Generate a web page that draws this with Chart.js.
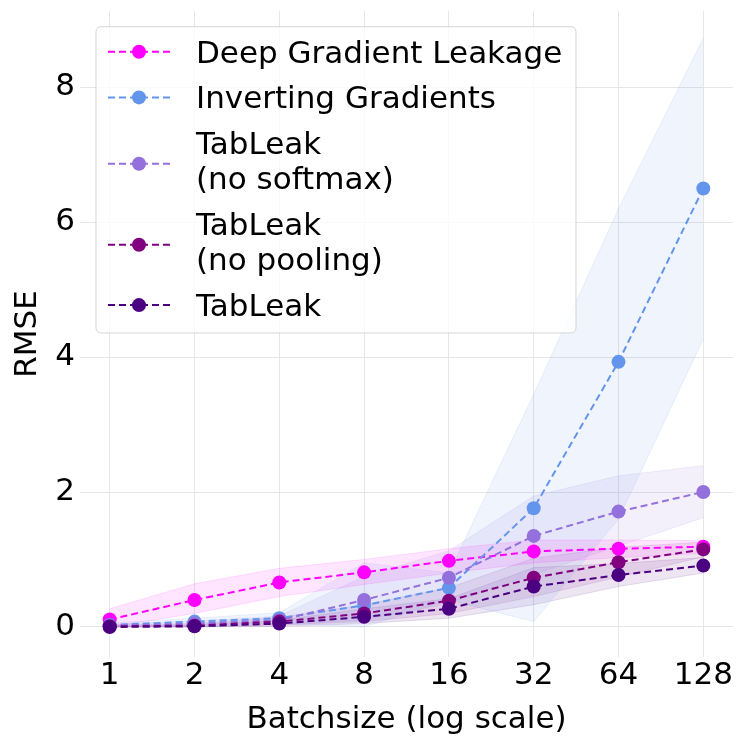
<!DOCTYPE html>
<html>
<head>
<meta charset="utf-8">
<script src="https://cdn.jsdelivr.net/npm/chart.js@4.4.1/dist/chart.umd.min.js"></script>
<style>
  html, body { margin: 0; padding: 0; background: #fff; }
  #wrap { width: 747px; height: 747px; }
</style>
</head>
<body>
<div id="wrap"><canvas id="rmse-chart" width="747" height="747"></canvas></div>
<script>
// Batch sizes (x axis, log scale) and y ticks
const batchSizes = [1, 2, 4, 8, 16, 32, 64, 128];
const yTicks = [0, 2, 4, 6, 8];

// Deep Gradient Leakage
const dglMean  = [0.11, 0.40, 0.66, 0.81, 0.98, 1.12, 1.16, 1.19];
const dglUpper = [0.27, 0.64, 0.87, 1.00, 1.16, 1.29, 1.29, 1.28];
const dglLower = [0.00, 0.20, 0.45, 0.63, 0.80, 0.95, 1.03, 1.09];

// Inverting Gradients
const igMean  = [0.03, 0.08, 0.13, 0.32, 0.58, 1.76, 3.93, 6.50];
const igUpper = [0.06, 0.13, 0.21, 0.95, 0.80, 3.45, 6.20, 8.73];
const igLower = [0.00, 0.03, 0.05, 0.00, 0.40, 0.08, 1.60, 4.27];

// TabLeak (no softmax)
const noSoftmaxMean  = [0.02, 0.05, 0.10, 0.40, 0.73, 1.35, 1.71, 2.00];
const noSoftmaxUpper = [0.04, 0.09, 0.16, 0.75, 1.13, 1.94, 2.24, 2.39];
const noSoftmaxLower = [0.00, 0.01, 0.04, 0.10, 0.35, 0.78, 1.20, 1.62];

// TabLeak (no pooling)
const noPoolingMean  = [0.01, 0.02, 0.08, 0.20, 0.39, 0.73, 0.96, 1.15];
const noPoolingUpper = [0.03, 0.05, 0.14, 0.33, 0.58, 1.02, 1.18, 1.26];
const noPoolingLower = [0.00, 0.00, 0.03, 0.08, 0.20, 0.45, 0.74, 1.04];

// TabLeak
const tabLeakMean  = [0.00, 0.01, 0.05, 0.15, 0.27, 0.60, 0.77, 0.91];
const tabLeakUpper = [0.02, 0.03, 0.10, 0.27, 0.42, 0.88, 0.94, 1.03];
const tabLeakLower = [0.00, 0.00, 0.01, 0.05, 0.13, 0.33, 0.60, 0.80];

const series = [
  { label: ["Deep Gradient Leakage"], color: "#ff00ff", rgb: "255,0,255", mean: dglMean, upper: dglUpper, lower: dglLower },
  { label: ["Inverting Gradients"], color: "#6495ed", rgb: "100,149,237", mean: igMean, upper: igUpper, lower: igLower },
  { label: ["TabLeak", "(no softmax)"], color: "#9370db", rgb: "147,112,219", mean: noSoftmaxMean, upper: noSoftmaxUpper, lower: noSoftmaxLower },
  { label: ["TabLeak", "(no pooling)"], color: "#800080", rgb: "128,0,128", mean: noPoolingMean, upper: noPoolingUpper, lower: noPoolingLower },
  { label: ["TabLeak"], color: "#4b0082", rgb: "75,0,130", mean: tabLeakMean, upper: tabLeakUpper, lower: tabLeakLower }
];

const FONT = "DejaVu Sans";
const toPoints = (vals) => batchSizes.map((b, i) => ({ x: b, y: vals[i] }));

const datasets = [];
series.forEach((s, k) => {
  // shaded band: upper filled down to the following lower dataset
  datasets.push({
    data: toPoints(s.upper),
    borderColor: "rgba(" + s.rgb + ",0.12)",
    borderWidth: 1,
    backgroundColor: "rgba(" + s.rgb + ",0.1)",
    pointRadius: 0,
    fill: "+1",
    order: 20 + k
  });
  datasets.push({
    data: toPoints(s.lower),
    borderColor: "rgba(" + s.rgb + ",0.12)",
    borderWidth: 1,
    pointRadius: 0,
    fill: false,
    order: 20 + k
  });
});
series.forEach((s, k) => {
  datasets.push({
    label: s.label.join(" "),
    data: toPoints(s.mean),
    borderColor: s.color,
    backgroundColor: s.color,
    borderWidth: 2,
    borderDash: [7, 4],
    pointRadius: 7,
    pointBorderWidth: 0,
    pointBackgroundColor: s.color,
    fill: false,
    tension: 0,
    order: 10 - k
  });
});

// legend box drawn inside the plot, top left
const boxLegend = {
  id: "boxLegend",
  afterDraw(chart) {
    const ctx = chart.ctx;
    const x0 = 96, y0 = 26.7, w = 480, h = 306.3, r = 5;
    ctx.save();
    ctx.beginPath();
    ctx.roundRect(x0, y0, w, h, r);
    ctx.fillStyle = "rgba(255,255,255,0.8)";
    ctx.fill();
    ctx.strokeStyle = "rgba(204,204,204,0.8)";
    ctx.lineWidth = 1;
    ctx.stroke();

    ctx.font = "31px '" + FONT + "'";
    ctx.fillStyle = "#000";
    ctx.textAlign = "left";
    ctx.textBaseline = "alphabetic";
    let base = 62.7;
    series.forEach((s) => {
      const first = base;
      s.label.forEach((line, j) => {
        if (j > 0) base += 35.3;
        ctx.fillText(line, 196, base);
      });
      const my = (first + base) / 2 - 11 + (s.label.length > 1 ? 3 : 0);
      ctx.beginPath();
      ctx.setLineDash([7, 4]);
      ctx.strokeStyle = s.color;
      ctx.lineWidth = 2;
      ctx.moveTo(108, my);
      ctx.lineTo(170, my);
      ctx.stroke();
      ctx.setLineDash([]);
      ctx.beginPath();
      ctx.arc(139, my, 7, 0, Math.PI * 2);
      ctx.fillStyle = s.color;
      ctx.fill();
      ctx.fillStyle = "#000";
      base += 45.7;
    });
    ctx.restore();
  }
};

const ctx = document.getElementById("rmse-chart").getContext("2d");
new Chart(ctx, {
  type: "line",
  data: { datasets: datasets },
  options: {
    responsive: false,
    animation: false,
    devicePixelRatio: 1,
    layout: { padding: { top: 11, right: 14, left: 0, bottom: 0 } },
    plugins: {
      legend: { display: false },
      tooltip: { enabled: false }
    },
    scales: {
      x: {
        type: "logarithmic",
        min: Math.pow(2, -0.35),
        max: Math.pow(2, 7.35),
        afterBuildTicks: (scale) => { scale.ticks = batchSizes.map(v => ({ value: v })); },
        afterFit: (scale) => {
          scale.height = 90;
          scale.paddingLeft = 0;
          scale.paddingRight = 0;
        },
        border: { display: false },
        grid: { color: "#e6e6e6", lineWidth: 1, drawTicks: false },
        ticks: {
          callback: (v) => String(v),
          autoSkip: false,
          maxRotation: 0,
          padding: 0,
          color: "#000",
          font: { family: FONT, size: 31 }
        },
        title: {
          display: true,
          text: "Batchsize (log scale)",
          color: "#000",
          font: { family: FONT, size: 31 },
          padding: { top: 0, bottom: 8 }
        }
      },
      y: {
        type: "linear",
        min: -0.445,
        max: 9.13,
        afterBuildTicks: (scale) => { scale.ticks = yTicks.map(v => ({ value: v })); },
        afterFit: (scale) => {
          scale.width = 80;
          scale.paddingTop = 0;
          scale.paddingBottom = 0;
        },
        border: { display: false },
        grid: { color: "#e6e6e6", lineWidth: 1, drawTicks: false },
        ticks: {
          padding: 5,
          color: "#000",
          font: { family: FONT, size: 31 }
        },
        title: {
          display: true,
          text: "RMSE",
          color: "#000",
          font: { family: FONT, size: 31 },
          padding: { top: 9, bottom: 0 }
        }
      }
    }
  },
  plugins: [boxLegend]
});
</script>
</body>
</html>
